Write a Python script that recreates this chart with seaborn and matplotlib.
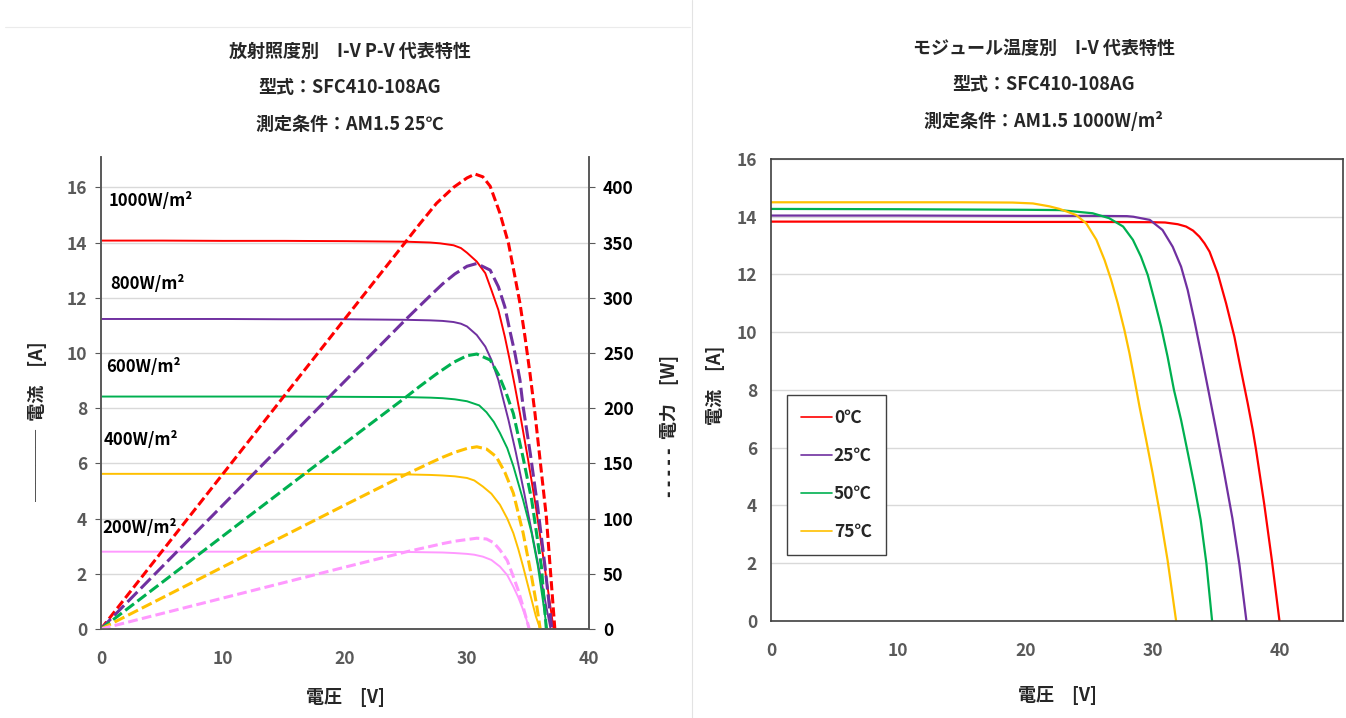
import pandas as pd
import seaborn as sns
import matplotlib.pyplot as plt
from matplotlib.ticker import MultipleLocator
from matplotlib.lines import Line2D

# ---- left chart: I-V / P-V by irradiance ----
irr_labels = ["1000W/m²", "800W/m²", "600W/m²", "400W/m²", "200W/m²"]
irr_colors = ["#FF0000", "#7030A0", "#00B050", "#FFC000", "#FF99FF"]

# current curves (solid)
v_1000 = [0, 5, 10, 15, 20, 25, 27, 27.8, 28.9, 29.5, 30, 30.8, 31.5, 32, 32.57, 33.1,
          33.5, 33.93, 34.34, 35, 35.6, 36.3, 37.1]
i_1000 = [14.07, 14.07, 14.06, 14.06, 14.05, 14.03, 14.0, 13.97, 13.9, 13.8, 13.63, 13.31,
          12.89, 12.28, 11.56, 10.59, 9.75, 8.78, 7.81, 6.15, 4.55, 2.45, 0]

v_800 = [0, 5, 10, 15, 20, 25, 27, 28, 28.9, 29.5, 30, 30.8, 31.5, 32, 32.57, 32.98,
         33.4, 34, 34.7, 35.4, 36.2, 36.85]
i_800 = [11.23, 11.23, 11.23, 11.22, 11.22, 11.2, 11.18, 11.16, 11.12, 11.06, 10.96, 10.65,
         10.23, 9.75, 9.02, 8.3, 7.57, 6.4, 4.9, 3.3, 1.5, 0]

v_600 = [0, 5, 10, 15, 20, 25, 27, 28, 29, 30, 31, 31.6, 32.2, 32.7, 33.3, 33.8,
         34.6, 35.3, 35.8, 36.2, 36.55]
i_600 = [8.42, 8.42, 8.42, 8.42, 8.41, 8.4, 8.38, 8.36, 8.32, 8.25, 8.1, 7.85, 7.5, 7.1,
         6.55, 5.9, 4.67, 3.47, 2.3, 1.1, 0]

v_400 = [0, 5, 10, 15, 20, 25, 27, 28, 29, 30, 30.6, 31.3, 32, 32.7, 33.3, 33.8,
         34.2, 34.6, 35.3, 35.65, 36.0]
i_400 = [5.62, 5.62, 5.62, 5.62, 5.61, 5.6, 5.58, 5.56, 5.53, 5.47, 5.38, 5.16, 4.9, 4.5,
         4.0, 3.47, 2.9, 2.26, 1.05, 0.45, 0]

v_200 = [0, 5, 10, 15, 20, 25, 28, 29, 30, 30.6, 31.3, 32, 32.7, 33.3, 33.8, 34.2,
         34.5, 34.8, 35.1]
i_200 = [2.8, 2.8, 2.8, 2.8, 2.8, 2.79, 2.77, 2.75, 2.72, 2.69, 2.62, 2.5, 2.26, 1.95,
         1.53, 1.15, 0.81, 0.45, 0]

# power curves (dashed)
vp_1000 = [0, 5, 10, 15, 20, 25, 26.1, 27.5, 28.9, 30, 30.66, 31.3, 31.9, 32.7, 33.4,
           33.93, 34.34, 34.75, 35.16, 35.57, 36.0, 36.5, 37.2]
pp_1000 = [0, 70.3, 140.5, 210.8, 281, 351, 366.5, 385.5, 400, 408.5, 412, 409.5, 401,
           376.5, 349.3, 319, 295, 264.8, 231.6, 195.4, 152, 102, 0]

vp_800 = [0, 5, 10, 15, 20, 25, 27, 28, 29, 30, 30.8, 31.9, 32.57, 33.1, 33.5, 33.93,
          34.34, 34.6, 35.2, 35.8, 36.4, 36.95]
pp_800 = [0, 56.2, 112.3, 168.5, 224.6, 280.5, 302, 312.5, 321.5, 328.5, 331, 325, 310,
          291.9, 270.8, 249.7, 225.5, 201.4, 158, 110, 56, 0]

vp_600 = [0, 5, 10, 15, 20, 25, 26.1, 27.5, 28.9, 30, 30.8, 31.9, 32.6, 33.2, 33.8,
          34.6, 35.3, 36.1, 36.5]
pp_600 = [0, 42.1, 84.2, 126.3, 168.3, 210, 219.5, 231, 241.5, 247.5, 249, 243.6, 230,
          214, 195, 155, 117, 56.4, 0]

vp_400 = [0, 5, 10, 15, 20, 25, 27, 28, 29, 30, 30.8, 31.6, 32.4, 33.1, 33.8, 34.6,
          35.3, 35.7, 36.0]
pp_400 = [0, 28.1, 56.2, 84.3, 112.3, 140, 150.5, 155.5, 160, 163.5, 165, 163, 156, 142,
          123, 87, 47, 22, 0]

vp_200 = [0, 5, 10, 15, 20, 25, 28, 29, 30, 30.8, 31.6, 32.2, 32.7, 33.3, 33.8, 34.2,
          34.6, 35.1]
pp_200 = [0, 14, 28, 42, 56, 69.8, 77.3, 79.5, 81, 82.2, 81.5, 78, 71.6, 62, 47.4, 35,
          20, 0]

# ---- right chart: I-V by module temperature ----
temp_labels = ["0℃", "25℃", "50℃", "75℃"]
temp_colors = ["#FF0000", "#7030A0", "#00B050", "#FFC000"]

v_0c = [0, 10, 20, 25, 30, 31, 32, 32.65, 33.2, 33.7, 34.1, 34.5, 35.14, 35.8, 36.45,
        36.97, 37.5, 37.9, 38.15, 38.8, 39.4, 40]
i_0c = [13.83, 13.83, 13.82, 13.82, 13.81, 13.8, 13.74, 13.66, 13.52, 13.31, 13.08, 12.79,
        12.04, 11.0, 9.85, 8.69, 7.54, 6.61, 5.95, 4.05, 2.11, 0]

v_25c = [0, 10, 20, 25, 28, 28.5, 29.8, 30.8, 31.6, 32.26, 32.78, 33.3, 33.83, 34.4,
         35.0, 35.6, 36.3, 36.85, 37.4]
i_25c = [14.04, 14.04, 14.03, 14.03, 14.02, 14.0, 13.89, 13.54, 12.96, 12.27, 11.46, 10.42,
         9.27, 8.0, 6.65, 5.25, 3.55, 1.95, 0]

v_50c = [0, 10, 20, 22.7, 25.3, 26.6, 27.7, 28.47, 29.1, 29.64, 30.17, 30.69, 31.2, 31.7,
         32.26, 32.8, 33.3, 33.8, 34.25, 34.7]
i_50c = [14.27, 14.26, 14.24, 14.23, 14.12, 13.95, 13.66, 13.2, 12.62, 11.98, 11.1, 10.19,
         9.15, 8.0, 6.96, 5.8, 4.7, 3.5, 2.0, 0]

v_75c = [0, 10, 15, 19, 20.6, 21.9, 22.7, 24.0, 24.8, 25.6, 26.24, 26.76, 27.28, 27.8,
         28.2, 28.6, 28.99, 29.5, 30.03, 30.6, 31.2, 31.87]
i_75c = [14.5, 14.5, 14.5, 14.49, 14.46, 14.36, 14.27, 14.06, 13.77, 13.2, 12.5, 11.81,
         11.0, 10.08, 9.27, 8.35, 7.42, 6.3, 5.1, 3.7, 2.1, 0]

# long tables for seaborn
df_iv = pd.concat([
    pd.DataFrame({"V": v, "I": i, "irr": lab})
    for v, i, lab in zip([v_1000, v_800, v_600, v_400, v_200],
                         [i_1000, i_800, i_600, i_400, i_200], irr_labels)
], ignore_index=True)

df_pv = pd.concat([
    pd.DataFrame({"V": v, "P": p, "irr": lab})
    for v, p, lab in zip([vp_1000, vp_800, vp_600, vp_400, vp_200],
                         [pp_1000, pp_800, pp_600, pp_400, pp_200], irr_labels)
], ignore_index=True)

df_temp = pd.concat([
    pd.DataFrame({"V": v, "I": i, "temp": lab})
    for v, i, lab in zip([v_0c, v_25c, v_50c, v_75c],
                         [i_0c, i_25c, i_50c, i_75c], temp_labels)
], ignore_index=True)

sns.set_style("white")
plt.rcParams["font.family"] = ["Noto Sans CJK JP", "DejaVu Sans"]
plt.rcParams["font.weight"] = "bold"

tick_gray = "#595959"
spine_gray = "#595959"
grid_gray = "#D9D9D9"

fig = plt.figure(figsize=(13.46, 7.18), dpi=100)

# ---------------- left chart ----------------
ax = fig.add_axes([0.0750, 0.1240, 0.3626, 0.6574])
ax2 = ax.twinx()

sns.lineplot(data=df_iv, x="V", y="I", hue="irr", hue_order=irr_labels,
             palette=irr_colors, sort=False, estimator=None, linewidth=1.4,
             legend=False, ax=ax)
dash_map = {"1000W/m²": (3.0, 1.3), "800W/m²": (4.6, 1.6), "600W/m²": (3.6, 1.4),
            "400W/m²": (3.6, 1.4), "200W/m²": (3.2, 1.4)}
sns.lineplot(data=df_pv, x="V", y="P", hue="irr", hue_order=irr_labels,
             style="irr", style_order=irr_labels, dashes=dash_map,
             palette=irr_colors, sort=False, estimator=None, linewidth=2.2,
             legend=False, ax=ax2)

ax.set_xlim(0, 40)
ax.set_ylim(0, 17.1)
ax2.set_ylim(0, 17.1 * 25)
ax.xaxis.set_major_locator(MultipleLocator(10))
ax.xaxis.set_minor_locator(MultipleLocator(5))
ax.yaxis.set_major_locator(MultipleLocator(2))
ax2.yaxis.set_major_locator(MultipleLocator(50))
ax.grid(axis="y", color=grid_gray, linewidth=1.0)
ax.set_axisbelow(True)

for a in (ax, ax2):
    for side in ("left", "right", "bottom"):
        a.spines[side].set_color(spine_gray)
        a.spines[side].set_linewidth(1.2)
    a.spines["top"].set_visible(False)

ax.tick_params(axis="both", which="both", direction="out", length=4, color=spine_gray)
ax.tick_params(axis="x", labelsize=12.5, labelcolor=tick_gray, pad=11)
ax.tick_params(axis="y", labelsize=12.5, labelcolor=tick_gray, pad=6)
ax2.tick_params(axis="y", direction="out", length=4, color=spine_gray,
                labelsize=12.5, labelcolor="black", pad=6)

ax.set_xlabel("電圧　[V]", fontsize=13, fontweight="bold")
ax.xaxis.set_label_coords(0.5, -0.125)
ax.set_ylabel("────  電流　[A]", fontsize=13, fontweight="bold")
ax.yaxis.set_label_coords(-0.11, 0.44)
ax2.set_ylabel("- - - - -  電力　[W]", fontsize=13, fontweight="bold", rotation=90)
ax2.yaxis.set_label_coords(1.145, 0.43)

label_y = [15.5, 12.5, 9.5, 6.85, 3.65]
label_x = [0.6, 0.75, 0.4, 0.25, 0.15]
for lab, lx, ly in zip(irr_labels, label_x, label_y):
    ax.text(lx, ly, lab, fontsize=12, fontweight="bold", color="black",
            ha="left", va="center")

# ---------------- right chart ----------------
bx = fig.add_axes([0.5728, 0.1351, 0.4250, 0.6435])
sns.lineplot(data=df_temp, x="V", y="I", hue="temp", hue_order=temp_labels,
             palette=temp_colors, sort=False, estimator=None, linewidth=1.6,
             ax=bx)
bx.set_xlim(0, 45)
bx.set_ylim(0, 16)
bx.xaxis.set_major_locator(MultipleLocator(10))
bx.yaxis.set_major_locator(MultipleLocator(2))
bx.grid(axis="y", color=grid_gray, linewidth=1.0)
bx.set_axisbelow(True)
for side in ("left", "right", "bottom", "top"):
    bx.spines[side].set_color("#404040")
    bx.spines[side].set_linewidth(1.2)
bx.tick_params(axis="both", direction="out", length=4, color=spine_gray,
               labelsize=12.5, labelcolor=tick_gray)
bx.tick_params(axis="x", pad=11)
bx.tick_params(axis="y", pad=6)
bx.set_xlabel("電圧　[V]", fontsize=13, fontweight="bold")
bx.xaxis.set_label_coords(0.5, -0.14)
bx.set_ylabel("電流　[A]", fontsize=13, fontweight="bold")
bx.yaxis.set_label_coords(-0.08, 0.51)

handles, labels = bx.get_legend_handles_labels()
leg = bx.legend(handles, labels, loc="upper left", bbox_to_anchor=(0.028, 0.489),
                borderaxespad=0, frameon=True, fancybox=False, framealpha=1,
                edgecolor="#404040", fontsize=12.5, handlelength=1.8,
                handletextpad=0.1, labelspacing=1.15, borderpad=0.8)
leg.get_frame().set_linewidth(1.0)
for line in leg.get_lines():
    line.set_linewidth(1.2)

# ---------------- titles ----------------
left_title = ["放射照度別　I-V P-V 代表特性", "型式：SFC410-108AG", "測定条件：AM1.5 25℃"]
right_title = ["モジュール温度別　I-V 代表特性", "型式：SFC410-108AG", "測定条件：AM1.5 1000W/m²"]
for k, (lt, rt) in enumerate(zip(left_title, right_title)):
    fig.text(0.260, 0.928 - k * 0.0505, lt, ha="center", va="center",
             fontsize=13, fontweight="bold")
    fig.text(0.7756, 0.933 - k * 0.0505, rt, ha="center", va="center",
             fontsize=13, fontweight="bold")

# faint panel frames
fig.add_artist(Line2D([0.004, 0.513], [0.962, 0.962], transform=fig.transFigure,
                      color="#EBEBEB", linewidth=0.8))
fig.add_artist(Line2D([0.514, 0.514], [0.0, 1.0], transform=fig.transFigure,
                      color="#E3E3E3", linewidth=0.8))

fig.savefig("out.png", dpi=100)
